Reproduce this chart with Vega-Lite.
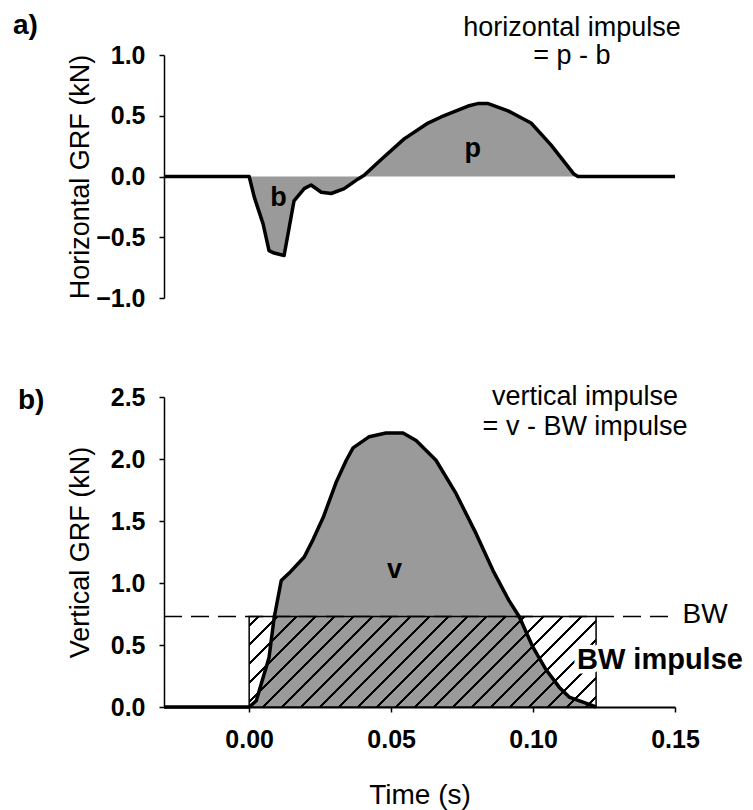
{
  "$schema": "https://vega.github.io/schema/vega-lite/v6.json",
  "padding": {"left": 13, "top": 11, "right": 5, "bottom": 3},
  "background": "white",
  "config": {
    "font": "Liberation Sans",
    "view": {"stroke": null},
    "axis": {
      "labelFont": "Liberation Sans", "titleFont": "Liberation Sans",
      "labelFontSize": 25, "labelFontWeight": "bold",
      "titleFontSize": 27, "titleFontWeight": "normal",
      "labelColor": "#000", "titleColor": "#000", "domainColor": "#000", "tickColor": "#000",
      "domainWidth": 1.5, "tickWidth": 1.5, "tickSize": 5, "grid": false, "labelPadding": 14,
      "labelFlush": false
    },
    "axisY": {"titleX": -70},
    "axisX": {"labelPadding": 15, "titlePadding": 29, "titleFontSize": 28, "domainWidth": 2}
  },
  "datasets": {
    "horiz": [
      {"t": -0.03, "v": 0}, {"t": 0.0, "v": 0}, {"t": 0.0018, "v": -0.17}, {"t": 0.0049, "v": -0.39},
      {"t": 0.0070, "v": -0.61}, {"t": 0.0088, "v": -0.63}, {"t": 0.0123, "v": -0.65}, {"t": 0.0141, "v": -0.42},
      {"t": 0.0158, "v": -0.20}, {"t": 0.0194, "v": -0.10}, {"t": 0.0218, "v": -0.07}, {"t": 0.0254, "v": -0.13},
      {"t": 0.0289, "v": -0.14}, {"t": 0.0335, "v": -0.10}, {"t": 0.0384, "v": -0.02}, {"t": 0.0405, "v": 0.01},
      {"t": 0.0465, "v": 0.14}, {"t": 0.0546, "v": 0.31}, {"t": 0.0630, "v": 0.44}, {"t": 0.0676, "v": 0.49},
      {"t": 0.0771, "v": 0.58}, {"t": 0.0805, "v": 0.60}, {"t": 0.0842, "v": 0.60}, {"t": 0.0912, "v": 0.54},
      {"t": 0.0993, "v": 0.44}, {"t": 0.1063, "v": 0.26}, {"t": 0.1144, "v": 0.02}, {"t": 0.1158, "v": 0},
      {"t": 0.15, "v": 0}
    ],
    "vert": [
      {"t": -0.03, "v": 0}, {"t": 0.0, "v": 0}, {"t": 0.0025, "v": 0.05}, {"t": 0.0070, "v": 0.40},
      {"t": 0.0088, "v": 0.72}, {"t": 0.0113, "v": 1.02}, {"t": 0.0141, "v": 1.08}, {"t": 0.0194, "v": 1.21},
      {"t": 0.0225, "v": 1.35}, {"t": 0.0261, "v": 1.53}, {"t": 0.0306, "v": 1.81}, {"t": 0.0342, "v": 1.99},
      {"t": 0.0366, "v": 2.09}, {"t": 0.0423, "v": 2.18}, {"t": 0.0482, "v": 2.21}, {"t": 0.0542, "v": 2.21},
      {"t": 0.0588, "v": 2.15}, {"t": 0.0658, "v": 1.99}, {"t": 0.0729, "v": 1.72}, {"t": 0.0799, "v": 1.40},
      {"t": 0.0859, "v": 1.10}, {"t": 0.0915, "v": 0.86}, {"t": 0.0951, "v": 0.73}, {"t": 0.1000, "v": 0.48},
      {"t": 0.1046, "v": 0.30}, {"t": 0.1092, "v": 0.16}, {"t": 0.1127, "v": 0.08}, {"t": 0.1176, "v": 0.04},
      {"t": 0.1222, "v": 0.0}
    ],
    "bwrect": [{"t": 0, "t2": 0.1222, "v": 0, "v2": 0.73}],
    "bwline": [{"t": -0.03, "t2": 0.149, "v": 0.73}],
    "aRegion": [{"t": 0.0103, "v": -0.24, "label": "b"}, {"t": 0.0788, "v": 0.16, "label": "p"}],
    "aNote": [{"t": 0.1137, "v": 1.16, "label": "horizontal impulse"}, {"t": 0.1137, "v": 0.93, "label": "= p - b"}],
    "bNote": [{"t": 0.1183, "v": 2.435, "label": "vertical impulse"}, {"t": 0.1183, "v": 2.19, "label": "= v - BW impulse"}],
    "bRegion": [{"t": 0.0512, "v": 1.04, "label": "v"}],
    "bwImp": [{"t": 0.1447, "v": 0.31, "label": "BW impulse"}],
    "bwLab": [{"t": 0.1606, "v": 0.68, "label": "BW"}]
  },
  "spacing": 99,
  "bounds": "flush",
  "vconcat": [
    {
      "width": 511, "height": 243,
      "title": {"text": "a)", "anchor": "start", "frame": "group", "dx": -151, "fontSize": 28, "fontWeight": "bold", "font": "Liberation Sans", "color": "#000", "baseline": "alphabetic", "offset": -48},
      "encoding": {
        "x": {"field": "t", "type": "quantitative", "scale": {"domain": [-0.03, 0.15], "nice": false, "zero": false}, "axis": null},
        "y": {"field": "v", "type": "quantitative", "scale": {"domain": [-1, 1], "nice": false}, "axis": {"title": "Horizontal GRF (kN)", "values": [-1, -0.5, 0, 0.5, 1], "format": ".1f"}}
      },
      "layer": [
        {"data": {"name": "horiz"}, "mark": {"type": "area", "fill": "#9a9a9a", "stroke": null}, "encoding": {"y2": {"datum": 0}}},
        {"data": {"name": "horiz"}, "mark": {"type": "line", "color": "#000", "strokeWidth": 3.5, "strokeJoin": "round"}, "encoding": {}},
        {"data": {"name": "aRegion"}, "mark": {"type": "text", "fontSize": 27, "fontWeight": "bold", "align": "center", "baseline": "alphabetic", "color": "#000"}, "encoding": {"text": {"field": "label"}}},
        {"data": {"name": "aNote"}, "mark": {"type": "text", "fontSize": 27, "align": "center", "baseline": "alphabetic", "color": "#000"}, "encoding": {"text": {"field": "label"}}}
      ]
    },
    {
      "width": 511, "height": 310,
      "title": {"text": "b)", "anchor": "start", "frame": "group", "dx": -146, "fontSize": 28, "fontWeight": "bold", "font": "Liberation Sans", "color": "#000", "baseline": "alphabetic", "offset": -54},
      "encoding": {
        "x": {"field": "t", "type": "quantitative", "scale": {"domain": [-0.03, 0.15], "nice": false, "zero": false}, "axis": {"title": "Time (s)", "values": [0, 0.05, 0.1, 0.15], "format": ".2f"}},
        "y": {"field": "v", "type": "quantitative", "scale": {"domain": [0, 2.5], "nice": false}, "axis": {"title": "Vertical GRF (kN)", "values": [0, 0.5, 1, 1.5, 2, 2.5], "format": ".1f"}}
      },
      "layer": [
        {"data": {"name": "vert"}, "mark": {"type": "area", "fill": "#9a9a9a", "stroke": null}, "encoding": {"y2": {"datum": 0}}},
        {"data": {"name": "bwline"}, "mark": {"type": "rule", "color": "#000", "strokeWidth": 1.5, "strokeDash": [18, 9]}, "encoding": {"x2": {"field": "t2"}}},
        {"data": {"name": "bwrect"}, "mark": {"type": "rect", "stroke": "#000", "strokeWidth": 1.5,
          "fill": {"gradient": "linear", "x1": 0, "y1": 0, "x2": 1.1805, "y2": 0.3079, "stops": [
            {"offset": 0, "color": "rgba(0,0,0,0)"},
            {"offset": 0.0183, "color": "rgba(0,0,0,0)"}, {"offset": 0.0183, "color": "#000"}, {"offset": 0.0251, "color": "#000"}, {"offset": 0.0251, "color": "rgba(0,0,0,0)"},
            {"offset": 0.0617, "color": "rgba(0,0,0,0)"}, {"offset": 0.0617, "color": "#000"}, {"offset": 0.0686, "color": "#000"}, {"offset": 0.0686, "color": "rgba(0,0,0,0)"},
            {"offset": 0.1052, "color": "rgba(0,0,0,0)"}, {"offset": 0.1052, "color": "#000"}, {"offset": 0.1120, "color": "#000"}, {"offset": 0.1120, "color": "rgba(0,0,0,0)"},
            {"offset": 0.1486, "color": "rgba(0,0,0,0)"}, {"offset": 0.1486, "color": "#000"}, {"offset": 0.1555, "color": "#000"}, {"offset": 0.1555, "color": "rgba(0,0,0,0)"},
            {"offset": 0.1920, "color": "rgba(0,0,0,0)"}, {"offset": 0.1920, "color": "#000"}, {"offset": 0.1989, "color": "#000"}, {"offset": 0.1989, "color": "rgba(0,0,0,0)"},
            {"offset": 0.2355, "color": "rgba(0,0,0,0)"}, {"offset": 0.2355, "color": "#000"}, {"offset": 0.2423, "color": "#000"}, {"offset": 0.2423, "color": "rgba(0,0,0,0)"},
            {"offset": 0.2789, "color": "rgba(0,0,0,0)"}, {"offset": 0.2789, "color": "#000"}, {"offset": 0.2858, "color": "#000"}, {"offset": 0.2858, "color": "rgba(0,0,0,0)"},
            {"offset": 0.3224, "color": "rgba(0,0,0,0)"}, {"offset": 0.3224, "color": "#000"}, {"offset": 0.3292, "color": "#000"}, {"offset": 0.3292, "color": "rgba(0,0,0,0)"},
            {"offset": 0.3658, "color": "rgba(0,0,0,0)"}, {"offset": 0.3658, "color": "#000"}, {"offset": 0.3727, "color": "#000"}, {"offset": 0.3727, "color": "rgba(0,0,0,0)"},
            {"offset": 0.4092, "color": "rgba(0,0,0,0)"}, {"offset": 0.4092, "color": "#000"}, {"offset": 0.4161, "color": "#000"}, {"offset": 0.4161, "color": "rgba(0,0,0,0)"},
            {"offset": 0.4527, "color": "rgba(0,0,0,0)"}, {"offset": 0.4527, "color": "#000"}, {"offset": 0.4595, "color": "#000"}, {"offset": 0.4595, "color": "rgba(0,0,0,0)"},
            {"offset": 0.4961, "color": "rgba(0,0,0,0)"}, {"offset": 0.4961, "color": "#000"}, {"offset": 0.5030, "color": "#000"}, {"offset": 0.5030, "color": "rgba(0,0,0,0)"},
            {"offset": 0.5395, "color": "rgba(0,0,0,0)"}, {"offset": 0.5395, "color": "#000"}, {"offset": 0.5464, "color": "#000"}, {"offset": 0.5464, "color": "rgba(0,0,0,0)"},
            {"offset": 0.5830, "color": "rgba(0,0,0,0)"}, {"offset": 0.5830, "color": "#000"}, {"offset": 0.5898, "color": "#000"}, {"offset": 0.5898, "color": "rgba(0,0,0,0)"},
            {"offset": 0.6264, "color": "rgba(0,0,0,0)"}, {"offset": 0.6264, "color": "#000"}, {"offset": 0.6333, "color": "#000"}, {"offset": 0.6333, "color": "rgba(0,0,0,0)"},
            {"offset": 0.6699, "color": "rgba(0,0,0,0)"}, {"offset": 0.6699, "color": "#000"}, {"offset": 0.6767, "color": "#000"}, {"offset": 0.6767, "color": "rgba(0,0,0,0)"},
            {"offset": 0.7133, "color": "rgba(0,0,0,0)"}, {"offset": 0.7133, "color": "#000"}, {"offset": 0.7202, "color": "#000"}, {"offset": 0.7202, "color": "rgba(0,0,0,0)"},
            {"offset": 0.7567, "color": "rgba(0,0,0,0)"}, {"offset": 0.7567, "color": "#000"}, {"offset": 0.7636, "color": "#000"}, {"offset": 0.7636, "color": "rgba(0,0,0,0)"},
            {"offset": 0.8002, "color": "rgba(0,0,0,0)"}, {"offset": 0.8002, "color": "#000"}, {"offset": 0.8070, "color": "#000"}, {"offset": 0.8070, "color": "rgba(0,0,0,0)"},
            {"offset": 0.8436, "color": "rgba(0,0,0,0)"}, {"offset": 0.8436, "color": "#000"}, {"offset": 0.8505, "color": "#000"}, {"offset": 0.8505, "color": "rgba(0,0,0,0)"},
            {"offset": 0.8871, "color": "rgba(0,0,0,0)"}, {"offset": 0.8871, "color": "#000"}, {"offset": 0.8939, "color": "#000"}, {"offset": 0.8939, "color": "rgba(0,0,0,0)"},
            {"offset": 0.9305, "color": "rgba(0,0,0,0)"}, {"offset": 0.9305, "color": "#000"}, {"offset": 0.9374, "color": "#000"}, {"offset": 0.9374, "color": "rgba(0,0,0,0)"},
            {"offset": 0.9739, "color": "rgba(0,0,0,0)"}, {"offset": 0.9739, "color": "#000"}, {"offset": 0.9808, "color": "#000"}, {"offset": 0.9808, "color": "rgba(0,0,0,0)"},
            {"offset": 1, "color": "rgba(0,0,0,0)"}
          ]}},
          "encoding": {"x2": {"field": "t2"}, "y2": {"field": "v2"}}},
        {"data": {"name": "vert"}, "mark": {"type": "line", "color": "#000", "strokeWidth": 3.5, "strokeJoin": "round"}, "encoding": {}},
        {"data": {"name": "bRegion"}, "mark": {"type": "text", "fontSize": 27, "fontWeight": "bold", "align": "center", "baseline": "alphabetic", "color": "#000"}, "encoding": {"text": {"field": "label"}}},
        {"data": {"name": "bwImp"}, "mark": {"type": "text", "fontSize": 29, "fontWeight": "bold", "align": "center", "baseline": "alphabetic", "fill": "white", "stroke": "white", "strokeWidth": 9, "strokeJoin": "round"}, "encoding": {"text": {"field": "label"}}},
        {"data": {"name": "bwImp"}, "mark": {"type": "text", "fontSize": 29, "fontWeight": "bold", "align": "center", "baseline": "alphabetic", "color": "#000"}, "encoding": {"text": {"field": "label"}}},
        {"data": {"name": "bwLab"}, "mark": {"type": "text", "fontSize": 28, "align": "center", "baseline": "alphabetic", "color": "#000"}, "encoding": {"text": {"field": "label"}}},
        {"data": {"name": "bNote"}, "mark": {"type": "text", "fontSize": 27, "align": "center", "baseline": "alphabetic", "color": "#000"}, "encoding": {"text": {"field": "label"}}}
      ]
    }
  ]
}
